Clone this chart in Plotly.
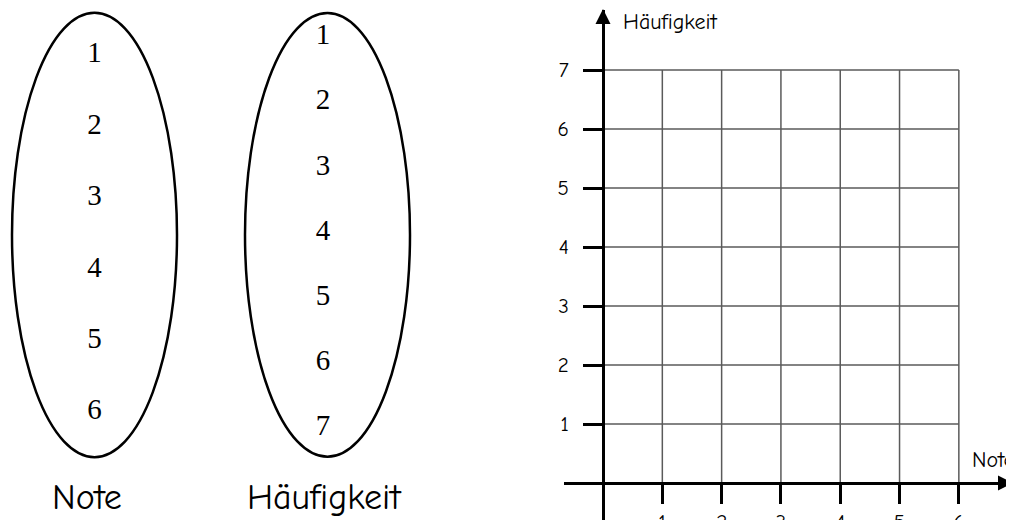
import plotly.graph_objects as go

# Werte in den Ellipsen
noten = [1, 2, 3, 4, 5, 6]
haeufigkeiten = [1, 2, 3, 4, 5, 6, 7]

# Achsenbeschriftung des Diagramms
x_ticks = [1, 2, 3, 4, 5, 6]
y_ticks = [1, 2, 3, 4, 5, 6, 7]
x_max = 6
y_max = 7

# die Seite hat 8px Rand, deshalb ist die Figur etwas kleiner
OFF = 8
W, H = 1014 - OFF, 520 - OFF


def px(x):
    return (x - OFF) / W


def py(y):
    return 1 - (y - OFF) / H


comic = "Comic Sans MS, Comic Neue, Lato, sans-serif"
serif = "Times New Roman, Liberation Serif, serif"

fig = go.Figure()

# linke Ellipse: Noten
fig.add_trace(go.Scatter(
    x=[94.5 - OFF] * len(noten), y=noten,
    mode='text', text=[str(n) for n in noten],
    textfont=dict(family=serif, size=29, color='black'),
    xaxis='x2', yaxis='y2', hoverinfo='skip', showlegend=False
))

# rechte Ellipse: Häufigkeiten
fig.add_trace(go.Scatter(
    x=[323 - OFF] * len(haeufigkeiten), y=haeufigkeiten,
    mode='text', text=[str(h) for h in haeufigkeiten],
    textfont=dict(family=serif, size=29, color='black'),
    xaxis='x2', yaxis='y3', hoverinfo='skip', showlegend=False
))

# Gitter
gx, gy = [], []
for v in x_ticks:
    gx += [v, v, None]
    gy += [0, y_max, None]
for v in y_ticks:
    gx += [0, x_max, None]
    gy += [v, v, None]
fig.add_trace(go.Scatter(
    x=gx, y=gy, mode='lines',
    line=dict(color='#5a5a5a', width=1.5),
    hoverinfo='skip', showlegend=False
))

# Ellipsen
fig.add_shape(type='circle', xref='x2', yref='y2',
              x0=12 - OFF, x1=177 - OFF, y0=0.41, y1=6.63,
              line=dict(color='black', width=2.5))
fig.add_shape(type='circle', xref='x2', yref='y3',
              x0=245 - OFF, x1=410 - OFF, y0=0.632, y1=7.44,
              line=dict(color='black', width=2.5))

# Pfeilspitzen
fig.add_annotation(x=px(603), y=py(8), xref='paper', yref='paper',
                   ax=0, ay=14, showarrow=True, arrowhead=2, arrowsize=1,
                   arrowwidth=3, arrowcolor='black', text='')
fig.add_annotation(x=1, y=py(483), xref='paper', yref='paper',
                   ax=-14, ay=0, showarrow=True, arrowhead=2, arrowsize=1,
                   arrowwidth=3, arrowcolor='black', text='')

# Beschriftungen
fig.add_annotation(x=px(87), y=py(497), xref='paper', yref='paper',
                   xanchor='center', yanchor='middle',
                   text='Note', showarrow=False,
                   font=dict(family=comic, size=36, color='black'))
fig.add_annotation(x=px(324), y=py(497), xref='paper', yref='paper',
                   xanchor='center', yanchor='middle',
                   text='Häufigkeit', showarrow=False,
                   font=dict(family=comic, size=36, color='black'))
fig.add_annotation(x=px(621), y=py(22), xref='paper', yref='paper',
                   xanchor='left', yanchor='middle',
                   text='Häufigkeit', showarrow=False,
                   font=dict(family=comic, size=22, color='black'))
fig.add_annotation(x=px(970), y=py(460), xref='paper', yref='paper',
                   xanchor='left', yanchor='middle',
                   text='Note', showarrow=False,
                   font=dict(family=comic, size=22, color='black'))

fig.update_layout(
    width=W, height=H,
    margin=dict(l=0, r=0, t=0, b=0, autoexpand=False),
    paper_bgcolor='white', plot_bgcolor='rgba(0,0,0,0)',
    showlegend=False,
    xaxis=dict(
        domain=[px(564), 1], range=[-0.658, 6.93],
        anchor='free', position=py(483), automargin=False,
        showgrid=False, zeroline=False,
        showline=True, linecolor='black', linewidth=3,
        tickmode='array', tickvals=x_ticks,
        ticks='outside', ticklen=19, tickwidth=3, tickcolor='black',
        ticklabelstandoff=0,
        tickfont=dict(family=comic, size=21, color='black'),
        fixedrange=True
    ),
    yaxis=dict(
        domain=[py(520), py(10)], range=[-0.627, 8.017],
        anchor='free', position=px(603), automargin=False,
        showgrid=False, zeroline=False,
        showline=True, linecolor='black', linewidth=3,
        tickmode='array', tickvals=y_ticks,
        ticks='outside', ticklen=19, tickwidth=3, tickcolor='black',
        ticklabelstandoff=10,
        tickfont=dict(family=comic, size=21, color='black'),
        fixedrange=True
    ),
    xaxis2=dict(domain=[0, 1], range=[0, W], visible=False,
                anchor='y2', fixedrange=True),
    yaxis2=dict(domain=[0, 1], range=[7.51, 0.23 + OFF / 71.4], visible=False,
                anchor='x2', fixedrange=True),
    yaxis3=dict(domain=[0, 1], range=[8.41, 0.433 + OFF / 65.2], visible=False,
                anchor='x2', overlaying='y2', fixedrange=True),
)

fig.write_html("out.html")
